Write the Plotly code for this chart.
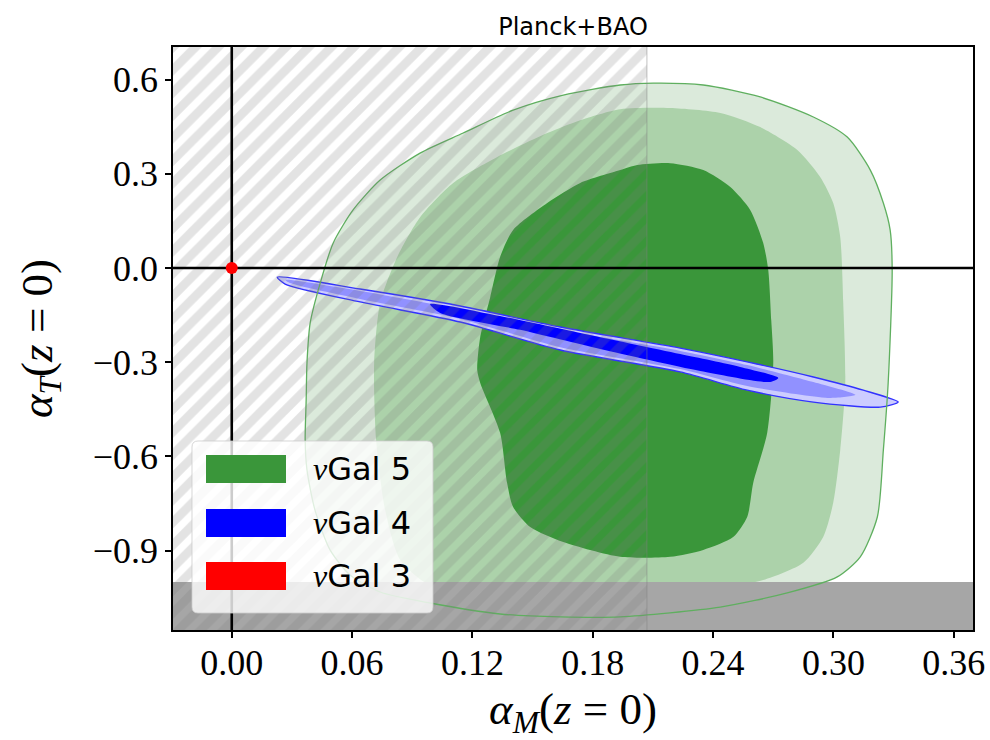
import plotly.graph_objects as go

# ---------------- data ----------------
title_text = "Planck+BAO"
x_tickvals = [0.00, 0.06, 0.12, 0.18, 0.24, 0.30, 0.36]
x_ticktext = ["0.00", "0.06", "0.12", "0.18", "0.24", "0.30", "0.36"]
y_tickvals = [0.6, 0.3, 0.0, -0.3, -0.6, -0.9]
y_ticktext = ["0.6", "0.3", "0.0", "\u22120.3", "\u22120.6", "\u22120.9"]
x_range = [-0.0293, 0.3696]
y_range = [-1.153, 0.704]

# nuGal 5 contours (outer / middle / inner)
g5_outer_x = [0.1937, 0.2102, 0.2351, 0.2635, 0.2900, 0.3069, 0.3184, 0.3249, 0.3283, 0.3293,
              0.3273, 0.3249, 0.3219, 0.3134, 0.3019, 0.2770, 0.2436, 0.1937, 0.1638, 0.1338,
              0.0989, 0.0740, 0.0590, 0.0490, 0.0415, 0.0375, 0.0366, 0.0371, 0.0375, 0.0391,
              0.0441, 0.0506, 0.0605, 0.0740, 0.0939, 0.1154, 0.1403, 0.1653, 0.1937]
g5_outer_y = [0.583, 0.589, 0.583, 0.545, 0.481, 0.417, 0.312, 0.207, 0.121, -0.006,
              -0.366, -0.580, -0.793, -0.920, -0.984, -1.035, -1.080, -1.111, -1.111, -1.102,
              -1.067, -1.032, -0.978, -0.898, -0.771, -0.643, -0.548, -0.420, -0.303, -0.175,
              -0.048, 0.080, 0.185, 0.280, 0.366, 0.430, 0.503, 0.551, 0.583]

g5_mid_x = [0.1937, 0.2186, 0.2436, 0.2635, 0.2820, 0.2934, 0.2999, 0.3034, 0.3049, 0.3059,
            0.3034, 0.2999, 0.2949, 0.2850, 0.2650, 0.2336, 0.1837, 0.1338, 0.0989, 0.0840,
            0.0765, 0.0720, 0.0710, 0.0740, 0.0825, 0.0939, 0.1104, 0.1324, 0.1573, 0.1738, 0.1937]
g5_mid_y = [0.506, 0.510, 0.494, 0.449, 0.376, 0.290, 0.207, 0.099, -0.111, -0.366,
            -0.580, -0.748, -0.857, -0.939, -0.994, -1.025, -1.038, -1.032, -1.010, -0.930,
            -0.771, -0.548, -0.303, -0.111, 0.035, 0.162, 0.271, 0.354, 0.430, 0.471, 0.506]

g5_in_x = [0.1937, 0.2022, 0.2186, 0.2351, 0.2486, 0.2585, 0.2650, 0.2675, 0.2690, 0.2700,
           0.2670, 0.2600, 0.2570, 0.2500, 0.2351, 0.2186, 0.1937, 0.1653, 0.1488, 0.1403,
           0.1373, 0.1338, 0.1239, 0.1224, 0.1239, 0.1289, 0.1338, 0.1403, 0.1573, 0.1738, 0.1937]
g5_in_y = [0.312, 0.328, 0.334, 0.312, 0.258, 0.185, 0.080, -0.006, -0.166, -0.303,
           -0.525, -0.685, -0.793, -0.857, -0.898, -0.920, -0.920, -0.873, -0.825, -0.761,
           -0.685, -0.525, -0.366, -0.325, -0.220, -0.092, 0.035, 0.121, 0.207, 0.271, 0.312]

# nuGal 4 contours (outer / middle / inner)
g4_outer_x = [0.0227, 0.0640, 0.1139, 0.1638, 0.2236, 0.2570, 0.2900, 0.3149, 0.3323,
              0.3234, 0.2900, 0.2570, 0.2236, 0.1638, 0.1139, 0.0640, 0.0266, 0.0227]
g4_outer_y = [-0.029, -0.067, -0.121, -0.188, -0.255, -0.299, -0.347, -0.389, -0.427,
              -0.443, -0.427, -0.389, -0.331, -0.261, -0.172, -0.108, -0.051, -0.029]

g4_mid_x = [0.0267, 0.0640, 0.1139, 0.1638, 0.2236, 0.2570, 0.2900, 0.3110,
            0.2985, 0.2570, 0.2236, 0.1638, 0.1139, 0.0640, 0.0291, 0.0267]
g4_mid_y = [-0.038, -0.073, -0.131, -0.197, -0.264, -0.309, -0.363, -0.404,
            -0.414, -0.376, -0.322, -0.252, -0.162, -0.099, -0.048, -0.038]

g4_in_x = [0.0989, 0.1338, 0.1738, 0.2236, 0.2535, 0.2725,
           0.2685, 0.2336, 0.1837, 0.1438, 0.1039, 0.0989]
g4_in_y = [-0.115, -0.153, -0.207, -0.274, -0.315, -0.350,
           -0.363, -0.328, -0.258, -0.197, -0.143, -0.115]

# nuGal 3 best fit point
g3_x = [0.0]
g3_y = [0.0]

# excluded regions
hatch_x = [-0.06, 0.207, 0.207, -0.06, -0.06]
hatch_y = [-1.3, -1.3, 0.8, 0.8, -1.3]
band_x = [-0.06, 0.40, 0.40, -0.06, -0.06]
band_y = [-1.3, -1.3, -1.0, -1.0, -1.3]

# reference lines
hline_x = [-0.06, 0.40]
hline_y = [0.0, 0.0]
vline_x = [0.0, 0.0]
vline_y = [-1.3, 0.8]

legend_labels = ["\u03bdGal 5", "\u03bdGal 4", "\u03bdGal 3"]
legend_colors = ["rgb(58,150,58)", "rgb(0,0,255)", "rgb(255,0,0)"]

# ---------------- figure ----------------
fig = go.Figure()


def poly(x, y, fill, line_color=None, line_width=0, smooth=True):
    return go.Scatter(x=x, y=y, mode="lines", fill="toself", fillcolor=fill,
                      line=dict(color=line_color or fill, width=line_width,
                                shape="spline" if smooth else "linear", smoothing=0.7),
                      hoverinfo="skip", showlegend=False)


fig.add_trace(poly(g5_outer_x, g5_outer_y, "rgb(219,234,219)"))
fig.add_trace(poly(g5_mid_x, g5_mid_y, "rgb(172,210,170)"))
fig.add_trace(poly(g5_in_x, g5_in_y, "rgb(58,150,58)"))
fig.add_trace(poly(g4_outer_x, g4_outer_y, "rgb(204,204,255)", "rgb(50,50,255)", 1.4))
fig.add_trace(poly(g4_mid_x, g4_mid_y, "rgb(145,145,255)"))
fig.add_trace(poly(g4_in_x, g4_in_y, "rgb(0,0,255)"))
# gray excluded band
fig.add_trace(poly(band_x, band_y, "rgb(166,166,166)", smooth=False))
# outer outline of nuGal 5
fig.add_trace(go.Scatter(x=g5_outer_x, y=g5_outer_y, mode="lines",
                         line=dict(color="rgb(95,175,95)", width=1.3, shape="spline", smoothing=0.7),
                         hoverinfo="skip", showlegend=False))
# hatched region
fig.add_trace(go.Scatter(x=hatch_x, y=hatch_y, mode="lines", fill="toself",
                         fillcolor="rgba(0,0,0,0)",
                         fillpattern=dict(shape="/", fgcolor="rgba(120,120,120,0.42)",
                                          bgcolor="rgba(0,0,0,0)", size=16, solidity=0.55),
                         line=dict(color="rgba(128,128,128,0.4)", width=1.2),
                         hoverinfo="skip", showlegend=False))
# reference lines
fig.add_trace(go.Scatter(x=hline_x, y=hline_y, mode="lines",
                         line=dict(color="black", width=2.6), hoverinfo="skip", showlegend=False))
fig.add_trace(go.Scatter(x=vline_x, y=vline_y, mode="lines",
                         line=dict(color="black", width=2.6), hoverinfo="skip", showlegend=False))
# red point
fig.add_trace(go.Scatter(x=g3_x, y=g3_y, mode="markers",
                         marker=dict(color="red", size=12), hoverinfo="skip", showlegend=False))

# ---------------- manual legend ----------------
def px2paper_x(px):
    return (px - 173) / 800.0


def px2paper_y(py):
    return (630 - py) / 583.0


bx0, bx1, by0, by1 = px2paper_x(192), px2paper_x(433), px2paper_y(613), px2paper_y(441)
rx, ry = 6 / 800.0, 6 / 583.0
path = (f"M {bx0+rx},{by0} L {bx1-rx},{by0} Q {bx1},{by0} {bx1},{by0+ry} "
        f"L {bx1},{by1-ry} Q {bx1},{by1} {bx1-rx},{by1} L {bx0+rx},{by1} "
        f"Q {bx0},{by1} {bx0},{by1-ry} L {bx0},{by0+ry} Q {bx0},{by0} {bx0+rx},{by0} Z")
shapes = [dict(type="path", xref="paper", yref="paper", path=path,
               fillcolor="rgba(255,255,255,0.8)", line=dict(color="rgba(204,204,204,0.8)", width=1),
               layer="above")]
patch_tops = [455, 509, 562]
annotations = []
for lab, col, top in zip(legend_labels, legend_colors, patch_tops):
    shapes.append(dict(type="rect", xref="paper", yref="paper",
                       x0=px2paper_x(206), x1=px2paper_x(286),
                       y0=px2paper_y(top + 28), y1=px2paper_y(top),
                       fillcolor=col, line=dict(width=0), layer="above"))
    nu, rest = lab[0], lab[1:]
    annotations.append(dict(xref="paper", yref="paper", x=px2paper_x(311), y=px2paper_y(top + 14),
                            xanchor="left", yanchor="middle", showarrow=False,
                            text=f"<span style='font-family:Liberation Serif'><i>{nu}</i></span>{rest}",
                            font=dict(family="DejaVu Sans", size=32, color="black")))

axis_font = dict(family="Liberation Serif", size=36, color="black")
fig.update_layout(
    width=990, height=740, autosize=False,
    margin=dict(l=173, r=17, t=47, b=110),
    plot_bgcolor="white", paper_bgcolor="white",
    title=dict(text=title_text, x=0.5, xref="paper", xanchor="center",
               y=1 - 27 / 740, yref="container", yanchor="middle",
               font=dict(family="DejaVu Sans", size=24, color="black")),
    xaxis=dict(range=x_range, tickvals=x_tickvals, ticktext=x_ticktext, automargin=False,
               showgrid=False, zeroline=False, showline=True, mirror=True,
               linecolor="black", linewidth=1.5, ticks="outside", ticklen=6, tickwidth=1.5,
               tickcolor="black", tickfont=axis_font, ticklabelstandoff=-6,
               title=dict(text="<i>\u03b1</i><sub><i>M</i></sub>(<i>z</i>\u2005=\u20050)",
                          font=dict(family="Liberation Serif", size=45, color="black"), standoff=32)),
    yaxis=dict(range=y_range, tickvals=y_tickvals, ticktext=y_ticktext, automargin=False,
               showgrid=False, zeroline=False, showline=True, mirror=True,
               linecolor="black", linewidth=1.5, ticks="outside", ticklen=6, tickwidth=1.5,
               tickcolor="black", tickfont=axis_font, ticklabelstandoff=0,
               title=dict(text="<i>\u03b1</i><sub><i>T</i></sub>(<i>z</i>\u2005=\u20050)",
                          font=dict(family="Liberation Serif", size=45, color="black"), standoff=26)),
    shapes=shapes, annotations=annotations,
)

fig.write_html("out.html", config={"displayModeBar": False},
               post_script="document.body.style.margin='0';document.body.style.padding='0';")
